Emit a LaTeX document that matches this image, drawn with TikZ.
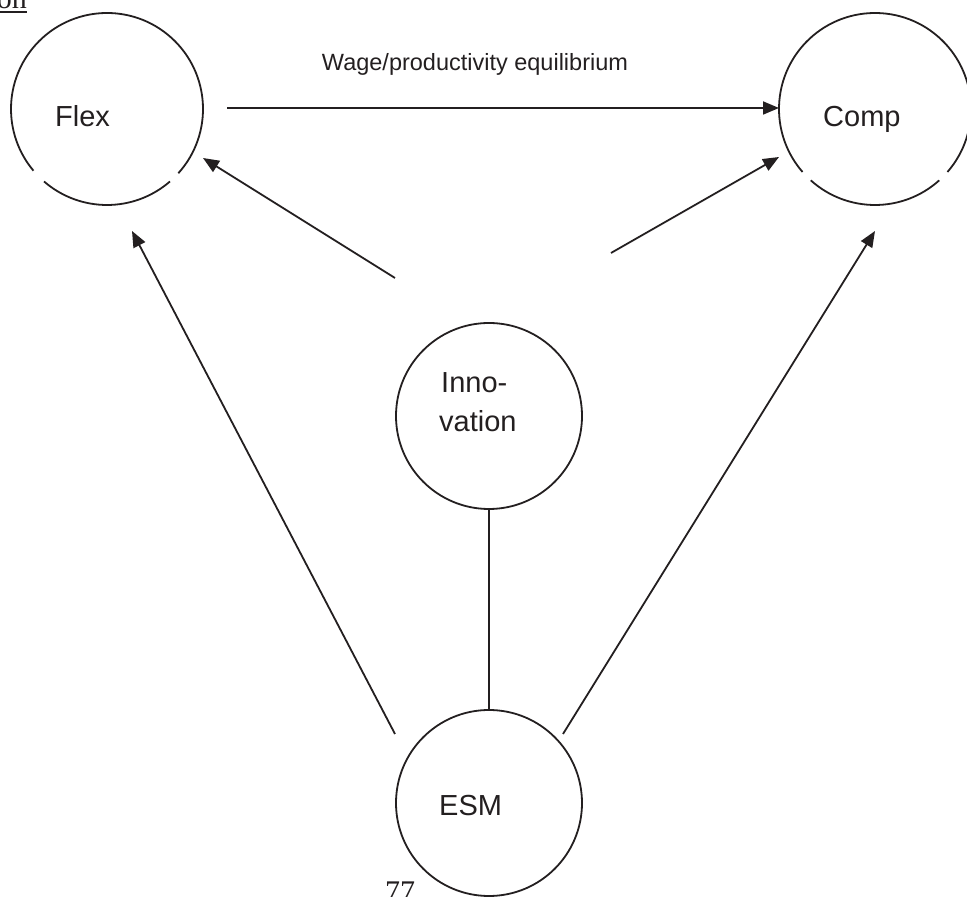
\documentclass[tikz,border=0pt]{standalone}
\usepackage{fontspec}
\setmainfont{Liberation Serif}
\newfontfamily\arialf{Liberation Sans}
\usetikzlibrary{arrows.meta}
\definecolor{ink}{RGB}{35,31,32}
\begin{document}
\begin{tikzpicture}[x=1pt,y=1pt,
  ring/.style={circle, draw=none, minimum size=#1, inner sep=0pt},
  ln/.style={line width=1.8pt, draw=ink},
  arr/.style={ln, -{Triangle[length=16pt,width=13pt]}},
  lbl/.style={font=\arialf\fontsize{29}{35}\selectfont, text=ink, inner sep=0pt},
  small/.style={font=\arialf\fontsize{23.5}{28}\selectfont, text=ink, inner sep=0pt},
  serif/.style={font=\fontsize{30}{34}\selectfont, text=ink, inner sep=0pt}]
\useasboundingbox (0,0) rectangle (967,897);
\clip (0,0) rectangle (967,897);

% circles
\node[ring=192] (flex) at (107,788) {};
\node[ring=192] (comp) at (875,788) {};
\node[ring=186, draw, ln] (innov) at (489,481) {};
\node[ring=186, draw, ln] (esm) at (489,94) {};

\draw[ln] ([shift={(-42:96)}]flex.center) arc[start angle=-42,end angle=220,radius=96];
\draw[ln] ([shift={(229:96)}]flex.center) arc[start angle=229,end angle=311,radius=96];
\draw[ln] ([shift={(-41:96)}]comp.center) arc[start angle=-41,end angle=221,radius=96];
\draw[ln] ([shift={(228:96)}]comp.center) arc[start angle=228,end angle=312,radius=96];

% labels
\node[lbl, anchor=base west] (flexlbl) at (55,770) {Flex};
\node[lbl, anchor=base west] (complbl) at (823,770) {Comp};
\node[lbl, anchor=base west] (innolbl1) at (441,504) {Inno-};
\node[lbl, anchor=base west] (innolbl2) at (439,465) {vation};
\node[lbl, anchor=base west] (esmlbl) at (439,81) {ESM};
\node[small, anchor=base] (wage) at (475,826) {Wage/productivity equilibrium};
\node[serif, anchor=base west] (page) at (385,-5) {77};
\node[serif, anchor=base east] (on) at (27,888) {on};
\draw[ink, line width=1.2pt] (0,885) -- (27,885);

% connector ends
\coordinate (h1) at (227,789);
\coordinate (h2) at (779,789);
\coordinate (a1) at (395,619);
\coordinate (a1t) at (203,739);
\coordinate (a2) at (611,644);
\coordinate (a2t) at (779,740);
\coordinate (b1) at (395,163);
\coordinate (b1t) at (132,666);
\coordinate (b2) at (563,163);
\coordinate (b2t) at (875,666);

% connectors
\draw[arr] (h1) -- (h2);
\draw[arr] (a1) -- (a1t);
\draw[arr] (a2) -- (a2t);
\draw[arr] (b1) -- (b1t);
\draw[arr] (b2) -- (b2t);
\draw[ln] (innov.south) -- (esm.north);
\end{tikzpicture}
\end{document}
